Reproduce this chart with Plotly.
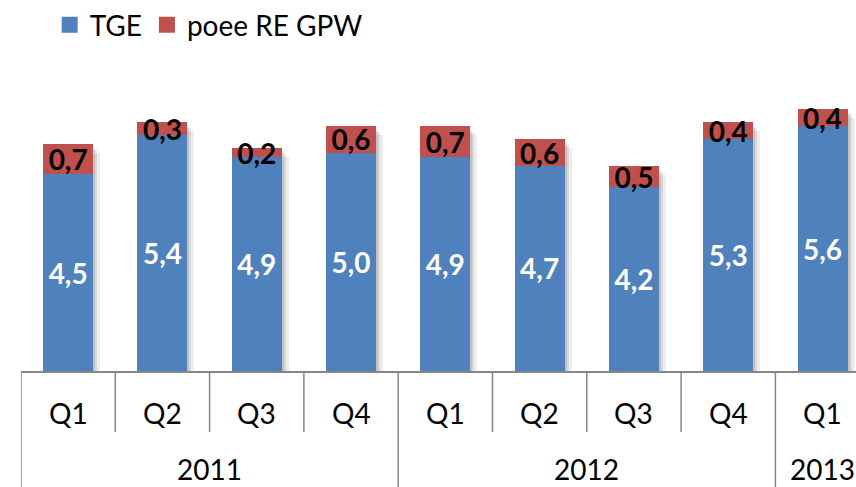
import plotly.graph_objects as go

quarters = ["Q1", "Q2", "Q3", "Q4", "Q1", "Q2", "Q3", "Q4", "Q1"]
years = ["2011", "2012", "2013"]
year_span = [4, 4, 1]
tge = [4.5, 5.4, 4.9, 5.0, 4.9, 4.7, 4.2, 5.3, 5.6]
poee = [0.7, 0.3, 0.2, 0.6, 0.7, 0.6, 0.5, 0.4, 0.4]

BLUE = "#4F81BD"
RED = "#C0504D"
GRID = "#868686"
FONT = "Lato, Carlito, Calibri, sans-serif"

pos = list(range(len(quarters)))
totals = [a + b for a, b in zip(tge, poee)]
fmt = lambda v: f"{v:.1f}".replace(".", ",")

x_range = [-0.5, 8.355]
y_range = [0, 6.5]
px_x = 94.3   # pixels per category
px_y = 43.7   # pixels per unit

fig = go.Figure()

# soft shadow behind the bars, a few layers shifted to the right/down
layout_axes = {}
for k, (dx, alpha) in enumerate([(2, 0.10), (4, 0.09), (7, 0.07)]):
    xa = "x" if k == 0 else f"x{k + 1}"
    ya = "y" if k == 0 else f"y{k + 1}"
    fig.add_trace(go.Bar(
        x=pos, y=totals, width=0.53,
        marker=dict(color=f"rgba(0,0,0,{alpha})", line_width=0),
        showlegend=False, hoverinfo="skip",
        xaxis=xa, yaxis=ya
    ))
    xd = dict(range=[x_range[0] - dx / px_x, x_range[1] - dx / px_x], visible=False)
    yd = dict(range=[y_range[0] + (dx + 2) / px_y, y_range[1] + (dx + 2) / px_y], visible=False)
    if k > 0:
        xd["overlaying"] = "x"
        yd["overlaying"] = "y"
    layout_axes["xaxis" if k == 0 else f"xaxis{k + 1}"] = xd
    layout_axes["yaxis" if k == 0 else f"yaxis{k + 1}"] = yd

fig.add_trace(go.Bar(
    x=pos, y=tge, name="TGE", width=0.53,
    marker=dict(color=BLUE, line_width=0),
    text=[fmt(v) for v in tge], textposition="inside",
    insidetextanchor="middle",
    textfont=dict(color="white", size=28, family=FONT, weight="bold"),
    xaxis="x4", yaxis="y4", showlegend=False
))

fig.add_trace(go.Bar(
    x=pos, y=poee, name="poee RE GPW", width=0.53,
    marker=dict(color=RED, line_width=0),
    text=[fmt(v) for v in poee], textposition="inside",
    insidetextanchor="middle",
    textfont=dict(color="black", size=28, family=FONT, weight="bold"),
    xaxis="x4", yaxis="y4", showlegend=False
))

# legend entries with bigger square swatches
for name, col in [("TGE", BLUE), ("poee RE GPW", RED)]:
    fig.add_trace(go.Scatter(
        x=[None], y=[None], mode="markers", name=name,
        marker=dict(symbol="square", size=17, color=col),
        xaxis="x4", yaxis="y4"
    ))

# category labels, two levels
for i, q in enumerate(quarters):
    fig.add_annotation(x=i, y=-0.148, xref="x4", yref="paper", text=q,
                       yanchor="middle", showarrow=False,
                       font=dict(size=28, color="black", family=FONT))

start = 0
bounds = [-0.5]
for yr, n in zip(years, year_span):
    fig.add_annotation(x=start + (n - 1) / 2, y=-0.345, xref="x4", yref="paper", text=yr,
                       yanchor="middle", showarrow=False,
                       font=dict(size=28, color="black", family=FONT))
    start += n
    bounds.append(start - 0.5)

for i in range(len(quarters) + 1):
    b = i - 0.5
    y1 = -0.42 if b in bounds else -0.215
    fig.add_shape(type="line", xref="x4", yref="paper", x0=b, x1=b, y0=0, y1=y1,
                  line=dict(color=GRID, width=1.5))

layout_axes["xaxis4"] = dict(range=x_range, overlaying="x", showticklabels=False, ticks="",
                             showgrid=False, zeroline=False, showline=True,
                             linecolor=GRID, linewidth=1.5)
layout_axes["yaxis4"] = dict(range=y_range, overlaying="y", visible=False)

fig.update_layout(
    barmode="stack",
    width=856, height=487,
    margin=dict(l=21, r=0, t=87, b=116),
    paper_bgcolor="white", plot_bgcolor="white",
    font=dict(family=FONT, size=28, color="black"),
    legend=dict(orientation="h", x=0.058, y=1.0, xref="container", yref="container",
                xanchor="left", yanchor="top", font=dict(size=28, family=FONT),
                itemsizing="trace", traceorder="normal", itemwidth=30),
    **layout_axes
)
fig.update_traces(constraintext="none", selector=dict(type="bar"))

fig.write_html("out.html", config={"displayModeBar": False},
               post_script="document.body.style.margin='0';")
